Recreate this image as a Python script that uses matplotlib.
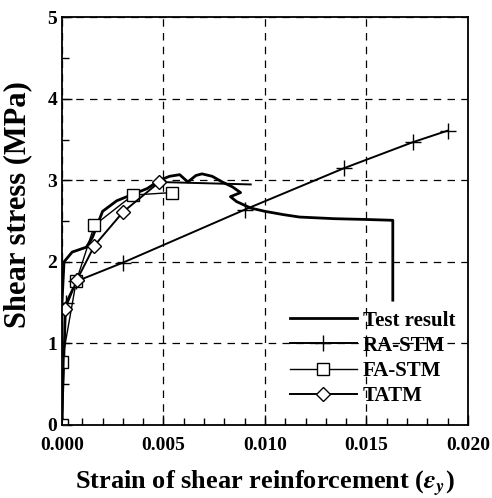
import numpy as np
import matplotlib
matplotlib.use("Agg")
import matplotlib.pyplot as plt
from matplotlib.ticker import MultipleLocator

plt.rcParams['font.family'] = ['Liberation Serif', 'DejaVu Serif']
plt.rcParams['font.weight'] = 'bold'
plt.rcParams['mathtext.fontset'] = 'stix'

# test result (measured curve)
test_x = [0.0, 0.0, 0.0001, 0.0005, 0.0012, 0.0015, 0.0020, 0.0027, 0.0034, 0.0042,
          0.0048, 0.0053, 0.0058, 0.0062, 0.0066, 0.0069, 0.0074, 0.0079, 0.0084,
          0.0088, 0.0083, 0.0086, 0.0093, 0.0100, 0.0109, 0.0117, 0.0134, 0.0150,
          0.0163, 0.0163]
test_y = [0.0, 1.5, 2.0, 2.12, 2.18, 2.3, 2.62, 2.75, 2.82, 2.9,
          3.0, 3.05, 3.07, 2.98, 3.06, 3.08, 3.05, 2.98, 2.92,
          2.85, 2.8, 2.74, 2.66, 2.62, 2.58, 2.55, 2.53, 2.52,
          2.51, 1.53]

# RA-STM
ra_x = [0.0, 0.0002, 0.0007, 0.0030, 0.0090, 0.0139, 0.0173, 0.0190]
ra_y = [0.0, 1.5, 1.76, 1.99, 2.64, 3.15, 3.47, 3.61]

# FA-STM
fa_x = [0.0, 0.0, 0.0007, 0.0016, 0.0035, 0.0054]
fa_y = [0.0, 0.77, 1.76, 2.45, 2.82, 2.85]

# TATM
ta_x = [0.0, 0.00015, 0.00074, 0.0016, 0.0030, 0.0048, 0.0093]
ta_y = [0.0, 1.42, 1.78, 2.2, 2.61, 2.98, 2.95]

fig = plt.figure(figsize=(4.92, 4.98), dpi=100)
ax = fig.add_axes([0.126, 0.147, 0.825, 0.818])

ax.plot(test_x, test_y, color='black', lw=2.0, label='Test result')
ax.plot(ra_x, ra_y, color='black', lw=1.4, marker='+', markersize=11,
        markeredgewidth=1.0, label='RA-STM')
ax.plot(fa_x, fa_y, color='black', lw=1.0, marker='s', markersize=8,
        markerfacecolor='white', markeredgewidth=1.0, label='FA-STM')
ax.plot(ta_x, ta_y, color='black', lw=1.4, marker='D', markersize=7,
        markerfacecolor='white', markeredgewidth=1.0, markevery=[1, 2, 3, 4, 5],
        label='TATM')

ax.set_xlim(0, 0.020)
ax.set_ylim(0, 5)
ax.xaxis.set_major_locator(MultipleLocator(0.005))
ax.xaxis.set_minor_locator(MultipleLocator(0.001))
ax.yaxis.set_major_locator(MultipleLocator(1))
ax.yaxis.set_minor_locator(MultipleLocator(0.5))
ax.set_xticklabels(['%.3f' % v for v in ax.get_xticks()])
ax.tick_params(which='both', direction='in', top=False, right=False,
               labelsize=14, width=1.0)
ax.tick_params(which='major', length=7)
ax.tick_params(axis='x', which='major', pad=9)
ax.tick_params(which='minor', length=5)
ax.grid(True, which='major', color='black', linestyle=(0, (6, 5)), lw=0.9)

for s in ax.spines.values():
    s.set_linewidth(1.3)

ax.set_xlabel(r'Strain of shear reinforcement ($\varepsilon_y$)',
              fontsize=19, fontweight='bold')
ax.xaxis.set_label_coords(0.5, -0.108)
ax.set_ylabel('Shear stress (MPa)', fontsize=22, fontweight='bold')
ax.yaxis.set_label_coords(-0.074, 0.54)

ax.legend(loc='lower right', bbox_to_anchor=(1.0, 0.015), frameon=False,
          fontsize=15, handlelength=3.2, labelspacing=0.25, handletextpad=0.3,
          borderaxespad=0.2)

fig.savefig('out.png', dpi=100)
